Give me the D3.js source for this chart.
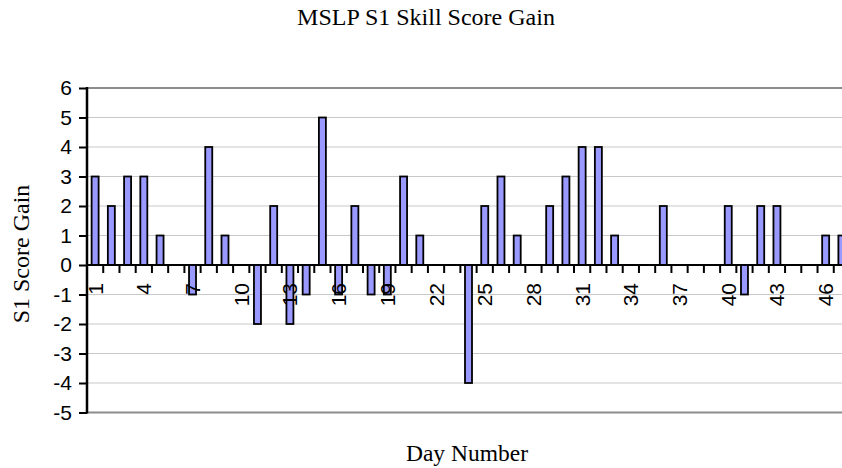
<!DOCTYPE html>
<html>
<head>
<meta charset="utf-8">
<script src="https://cdn.jsdelivr.net/npm/d3@7"></script>
<style>
  body { margin: 0; background: #fff; }
  svg { display: block; }
</style>
</head>
<body>
<div id="chart"></div>
<script>
// day numbers on the category axis
const days = [1, 2, 3, 4, 5, 6, 7, 8, 9, 10, 11, 12, 13, 14, 15, 16, 17, 18, 19, 20,
    21, 22, 23, 24, 25, 26, 27, 28, 29, 30, 31, 32, 33, 34, 35, 36, 37, 38, 39, 40,
    41, 42, 43, 44, 45, 46, 47];

// S1 score gain for each day
const gains = [3, 2, 3, 3, 1, 0, -1, 4, 1, 0, -2, 2, -2, -1, 5, -1, 2, -1, -1, 3,
    1, 0, 0, -4, 2, 3, 1, 0, 2, 3, 4, 4, 1, 0, 0, 2, 0, 0, 0, 2,
    -1, 2, 2, 0, 0, 1, 1];

const xTickLabels = [1, 4, 7, 10, 13, 16, 19, 22, 25, 28, 31, 34, 37, 40, 43, 46];
const yTicks = [-5, -4, -3, -2, -1, 0, 1, 2, 3, 4, 5, 6];

const W = 842, H = 468;
const plot = {left: 87, right: 850, top: 88, bottom: 412.5};

const svg = d3.select("#chart")
    .append("svg")
    .attr("width", W)
    .attr("height", H);

const x = d3.scaleBand()
    .domain(days)
    .range([plot.left, plot.right])
    .padding(0);

const y = d3.scaleLinear()
    .domain([-5, 6])
    .range([plot.bottom, plot.top]);

// gridlines
svg.append("g")
    .selectAll("line")
    .data(yTicks.filter(d => d > -5 && d < 6 && d !== 0))
    .enter()
    .append("line")
    .attr("x1", plot.left)
    .attr("x2", plot.right)
    .attr("y1", d => y(d))
    .attr("y2", d => y(d))
    .attr("stroke", "#c8c8c8")
    .attr("stroke-width", 1);

// plot area top / bottom border
[6, -5].forEach(v => {
    svg.append("line")
        .attr("x1", plot.left)
        .attr("x2", plot.right)
        .attr("y1", y(v))
        .attr("y2", y(v))
        .attr("stroke", "#8c8c8c")
        .attr("stroke-width", 2);
});

// bars
const barW = 7;
const bars = days.map((d, i) => ({day: d, gain: gains[i]})).filter(d => d.gain !== 0);
svg.append("g")
    .selectAll(".bar")
    .data(bars)
    .enter()
    .append("rect")
    .attr("class", "bar")
    .attr("x", d => x(d.day) + x.bandwidth() / 2 - barW / 2)
    .attr("y", d => y(Math.max(0, d.gain)))
    .attr("width", barW)
    .attr("height", d => Math.abs(y(d.gain) - y(0)))
    .attr("fill", "#9999ff")
    .attr("stroke", "#000")
    .attr("stroke-width", 1.8);

// x tick labels (rotated), drawn over the bars
svg.append("g")
    .selectAll("text")
    .data(xTickLabels)
    .enter()
    .append("text")
    .attr("transform", d => `translate(${x(d) + x.bandwidth() / 2 + 7.5},${y(0) + 18}) rotate(-90)`)
    .attr("text-anchor", "end")
    .attr("font-family", "Liberation Sans, Arial, sans-serif")
    .attr("font-size", 21)
    .attr("fill", "#000")
    .text(d => d);

// x axis (zero line) with ticks at category boundaries
const xAxis = svg.append("g")
    .attr("transform", `translate(0,${y(0)})`);
xAxis.append("line")
    .attr("x1", plot.left)
    .attr("x2", plot.right)
    .attr("stroke", "#000")
    .attr("stroke-width", 2);
xAxis.selectAll(".btick")
    .data(days)
    .enter()
    .append("line")
    .attr("class", "btick")
    .attr("x1", d => x(d) + x.bandwidth())
    .attr("x2", d => x(d) + x.bandwidth())
    .attr("y1", 0)
    .attr("y2", 8)
    .attr("stroke", "#000")
    .attr("stroke-width", 2);

// y axis
const yAxis = svg.append("g")
    .attr("transform", `translate(${plot.left},0)`)
    .call(d3.axisLeft(y).tickValues(yTicks).tickSize(8).tickPadding(7).tickFormat(d3.format("d")));
yAxis.select(".domain")
    .attr("d", `M0,${y(-5) + 1}V${y(6) - 1}`)
    .attr("stroke", "#000")
    .attr("stroke-width", 2.5);
yAxis.selectAll(".tick line").attr("stroke", "#000").attr("stroke-width", 2);
yAxis.selectAll(".tick text")
    .attr("font-family", "Liberation Sans, Arial, sans-serif")
    .attr("font-size", 21)
    .attr("fill", "#000")
    .text(d => d < 0 ? "-" + Math.abs(d) : d);

// titles
svg.append("text")
    .attr("x", 426)
    .attr("y", 25)
    .attr("text-anchor", "middle")
    .attr("font-family", "Liberation Serif, Times New Roman, serif")
    .attr("font-size", 24)
    .text("MSLP S1 Skill Score Gain");

svg.append("text")
    .attr("transform", "translate(29,254) rotate(-90)")
    .attr("text-anchor", "middle")
    .attr("font-family", "Liberation Serif, Times New Roman, serif")
    .attr("font-size", 24)
    .text("S1 Score Gain");

svg.append("text")
    .attr("x", 467)
    .attr("y", 461)
    .attr("text-anchor", "middle")
    .attr("font-family", "Liberation Serif, Times New Roman, serif")
    .attr("font-size", 23.5)
    .text("Day Number");
</script>
</body>
</html>
